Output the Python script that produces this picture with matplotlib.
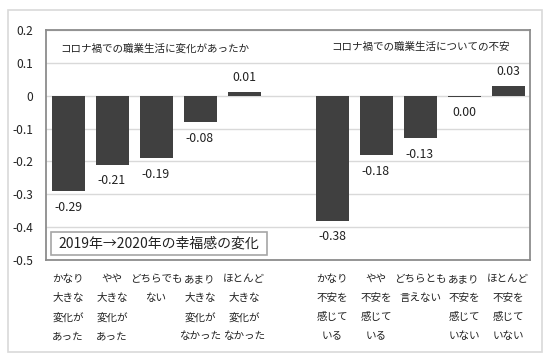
import matplotlib.pyplot as plt
from matplotlib.patches import Rectangle

plt.rcParams['font.family'] = ['Noto Sans CJK JP', 'DejaVu Sans']

# 幸福感の変化（2019年→2020年）
change_values = [-0.29, -0.21, -0.19, -0.08, 0.01]
anxiety_values = [-0.38, -0.18, -0.13, -0.003, 0.03]
change_labels = ["-0.29", "-0.21", "-0.19", "-0.08", "0.01"]
anxiety_labels = ["-0.38", "-0.18", "-0.13", "0.00", "0.03"]

change_cats = ["かなり\n大きな\n変化が\nあった", "やや\n大きな\n変化が\nあった",
               "どちらでも\nない", "あまり\n大きな\n変化が\nなかった",
               "ほとんど\n大きな\n変化が\nなかった"]
anxiety_cats = ["かなり\n不安を\n感じて\nいる", "やや\n不安を\n感じて\nいる",
                "どちらとも\n言えない", "あまり\n不安を\n感じて\nいない",
                "ほとんど\n不安を\n感じて\nいない"]

yticks = [0.2, 0.1, 0, -0.1, -0.2, -0.3, -0.4, -0.5]
ytick_labels = ["0.2", "0.1", "0", "-0.1", "-0.2", "-0.3", "-0.4", "-0.5"]

values = change_values + [None] + anxiety_values
labels = change_labels + [""] + anxiety_labels
cats = change_cats + [""] + anxiety_cats

W, H = 550, 359
fig = plt.figure(figsize=(W / 100, H / 100), dpi=100)
fig.patches.append(Rectangle((8 / W, 1 - 352 / H), 534 / W, 342 / H,
                             transform=fig.transFigure, fill=False,
                             edgecolor='#d9d9d9', linewidth=1.2))

ax = fig.add_axes([46 / W, (H - 260) / H, 484 / W, 230 / H])

xs = [i for i, v in enumerate(values) if v is not None]
vs = [v for v in values if v is not None]
ax.bar(xs, vs, width=0.75, color='#404040', zorder=3)

for x, v, lab in zip(xs, vs, [l for l in labels if l]):
    if v > 0:
        ax.annotate(lab, (x, v), xytext=(0, 6), textcoords='offset points',
                    ha='center', va='bottom', fontsize=8.8, color='#222222')
    else:
        ax.annotate(lab, (x, v), xytext=(0, -7), textcoords='offset points',
                    ha='center', va='top', fontsize=8.8, color='#222222')

ax.set_xlim(-0.5, 10.5)
ax.set_ylim(-0.5, 0.2)
ax.set_yticks(yticks)
ax.set_yticklabels(ytick_labels, fontsize=8.6, color='#222222')
ax.set_xticks(range(len(cats)))
ax.set_xticklabels(cats, fontsize=7.6, color='#222222', linespacing=2.12, va='top')
ax.tick_params(axis='both', length=0)
ax.tick_params(axis='y', pad=9)
ax.tick_params(axis='x', pad=10)

ax.grid(axis='y', color='#d9d9d9', linewidth=1, zorder=0)
for s in ax.spines.values():
    s.set_color('#8c8c8c')
    s.set_linewidth(1.3)

ax.text(0.225, 0.917, "コロナ禍での職業生活に変化があったか", transform=ax.transAxes,
        ha='center', va='center', fontsize=7.6, color='#222222')
ax.text(0.773, 0.926, "コロナ禍での職業生活についての不安", transform=ax.transAxes,
        ha='center', va='center', fontsize=7.6, color='#222222')

# 凡例風の枠
ax.add_patch(Rectangle((0.0103, 0.0217), 0.446, 0.1, transform=ax.transAxes,
                       facecolor='white', edgecolor='#a6a6a6', linewidth=1.2, zorder=5))
ax.text(0.2335, 0.072, "2019年→2020年の幸福感の変化", transform=ax.transAxes,
        ha='center', va='center', fontsize=10, color='#222222', zorder=6)

fig.savefig('out.png', dpi=100)
